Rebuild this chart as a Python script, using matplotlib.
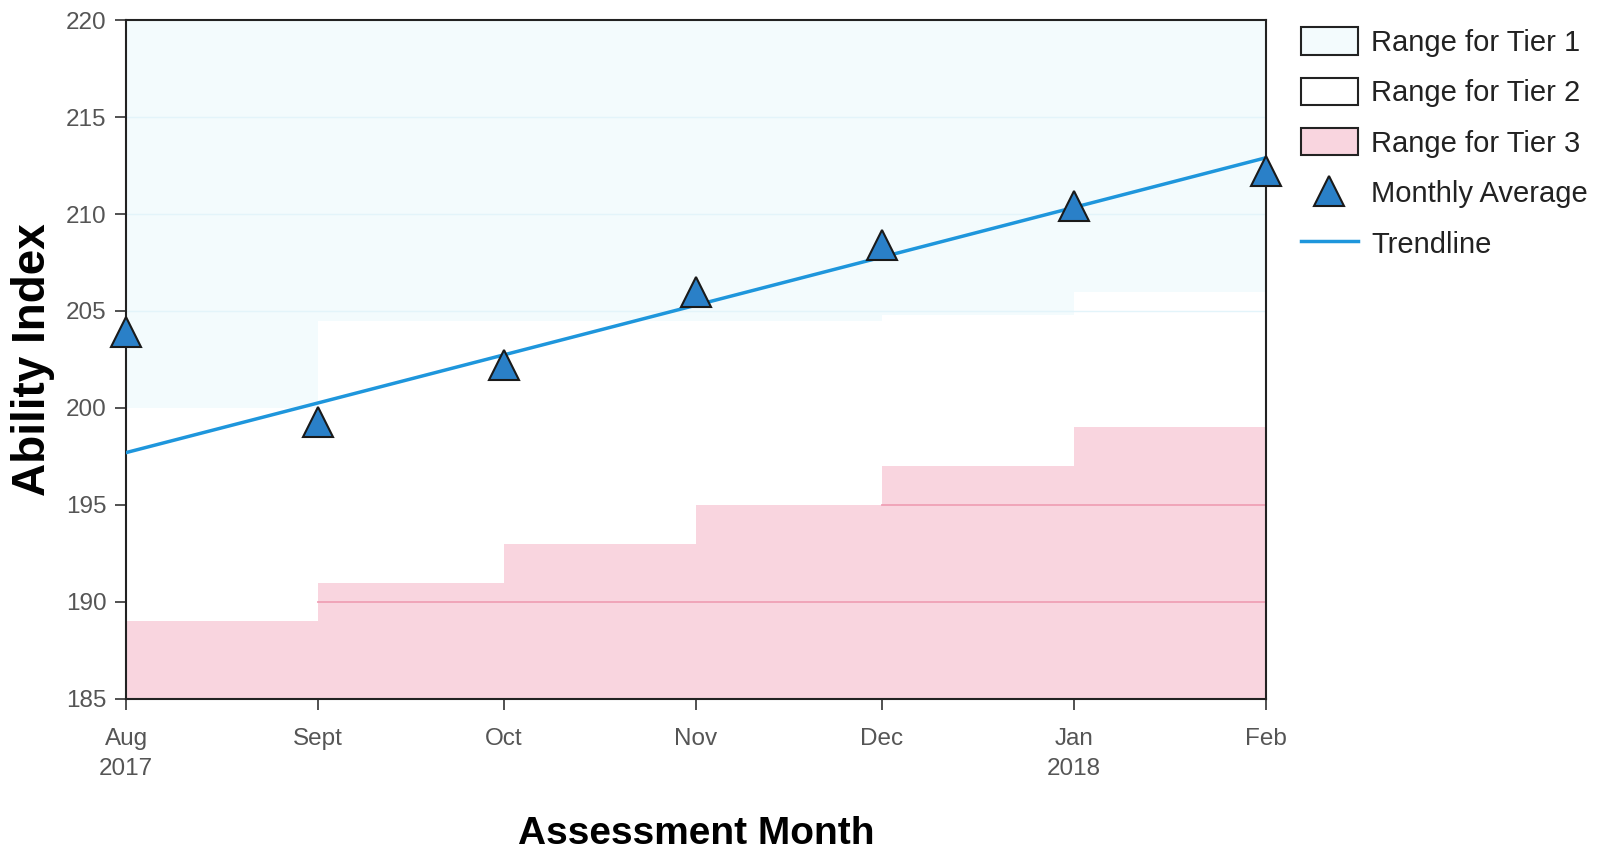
import matplotlib
matplotlib.use("Agg")
import matplotlib.pyplot as plt
import matplotlib.dates as mdates
from matplotlib.patches import Patch
from matplotlib.lines import Line2D
import datetime as dt

# ---- data ----
months = ["2017-08-01", "2017-09-01", "2017-10-01", "2017-11-01",
          "2017-12-01", "2018-01-01", "2018-02-01"]
tick_labels = ["Aug\n2017", "Sept", "Oct", "Nov", "Dec", "Jan\n2018", "Feb"]
monthly_avg = [203.9, 199.3, 202.2, 206.0, 208.4, 210.4, 212.2]
trend_start, trend_end = 197.7, 212.9
tier3_upper = [189, 191, 193, 195, 197, 199]          # per month interval
tier1_lower = [200, 204.5, 204.5, 204.5, 204.8, 206]  # per month interval (faint)
tier3_lines = [(190, 1), (195, 4)]                    # (value, start month index)
y_min, y_max = 185, 220
y_ticks = [185, 190, 195, 200, 205, 210, 215, 220]

dates = [dt.datetime.strptime(m, "%Y-%m-%d") for m in months]
xd = mdates.date2num(dates)

font = "Liberation Sans"

fig = plt.figure(figsize=(16.16, 8.59), dpi=100)
ax = fig.add_axes([0.078, 0.1863, 0.7054, 0.7904])

pink = "#F9D5DF"
cyan = "#F3FBFD"

for i in range(len(tier3_upper)):
    ax.fill_between([xd[i], xd[i + 1]], y_min, tier3_upper[i], color=pink, lw=0, zorder=1)
    ax.fill_between([xd[i], xd[i + 1]], tier1_lower[i], y_max, color=cyan, lw=0, zorder=1)

for val, start in tier3_lines:
    ax.plot([xd[start], xd[-1]], [val, val], color="#F0A0B6", lw=1.3, zorder=2)

for val in [205, 210, 215]:
    ax.plot([xd[0], xd[-1]], [val, val], color="#E3F4FA", lw=1.0, zorder=2)

ax.plot([xd[0], xd[-1]], [trend_start, trend_end], color="#1E96DC", lw=2.5, zorder=3)

ax.plot(xd, monthly_avg, linestyle="none", marker="^", markersize=21,
        markerfacecolor="#2A80C8", markeredgecolor="#1a1a1a", markeredgewidth=1.5,
        zorder=5, clip_on=False)

ax.set_xlim(xd[0], xd[-1])
ax.set_ylim(y_min, y_max)
ax.set_xticks(xd)
ax.set_xticklabels(tick_labels, linespacing=1.45)
ax.set_yticks(y_ticks)

for sp in ax.spines.values():
    sp.set_color("#222222")
    sp.set_linewidth(1.5)
ax.tick_params(axis="both", direction="out", length=8, width=1.2, color="#333333",
               labelcolor="#555555", labelsize=17.5, pad=6)
ax.tick_params(axis="x", pad=13)
for lab in ax.get_xticklabels() + ax.get_yticklabels():
    lab.set_fontfamily(font)

ax.set_ylabel("Ability Index", fontsize=33, fontweight="bold", family=font, labelpad=8)
ax.set_xlabel("Assessment Month", fontsize=28, fontweight="bold", family=font, labelpad=26)

handles = [
    Patch(facecolor=cyan, edgecolor="#222222", lw=1.5, label="Range for Tier 1"),
    Patch(facecolor="white", edgecolor="#222222", lw=1.5, label="Range for Tier 2"),
    Patch(facecolor=pink, edgecolor="#222222", lw=1.5, label="Range for Tier 3"),
    Line2D([], [], linestyle="none", marker="^", markersize=21, markerfacecolor="#2A80C8",
           markeredgecolor="#1a1a1a", markeredgewidth=1.5, label="Monthly Average"),
    Line2D([], [], color="#1E96DC", lw=2.5, label="Trendline"),
]
leg = fig.legend(handles=handles, loc="upper left", bbox_to_anchor=(0.805, 0.968),
                 frameon=False, prop={"family": font, "size": 21},
                 borderaxespad=0, borderpad=0,
                 handlelength=1.95, handleheight=1.05, labelspacing=0.72, handletextpad=0.45)
for t in leg.get_texts():
    t.set_color("#222222")

fig.savefig("out.png", dpi=100)
